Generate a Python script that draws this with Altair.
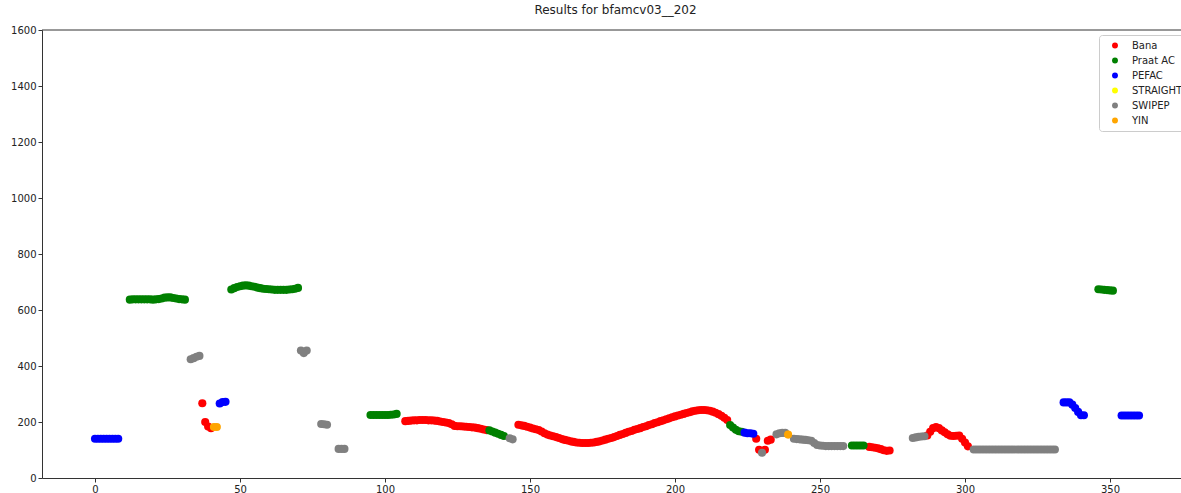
import altair as alt
import pandas as pd

# Pitch tracks for one recording: each method is a list of
# (first frame, f0 values in Hz on consecutive frames)
methods = ["Bana", "Praat AC", "PEFAC", "STRAIGHT", "SWIPEP", "YIN"]
method_colors = ["red", "green", "blue", "yellow", "gray", "orange"]

bana_segments = [
    (37, [267, 200, 184, 178]),
    (107, [203, 204, 205, 206, 206, 207, 207, 207, 206, 206,
           205, 204, 202, 200, 198, 196, 192, 186, 185, 185,
           184, 183, 182, 181, 180, 178, 176, 173, 171]),
    (146, [190, 188, 186, 183, 180, 177, 174, 171, 166, 160,
           155, 152, 149, 146, 143, 139, 136, 134, 131, 129,
           127, 126, 125, 125, 125, 126, 127, 129, 131, 134,
           137, 140, 143, 146, 150, 154, 157, 161, 165, 168,
           172, 175, 178, 182, 185, 189, 192, 196, 199, 203,
           206, 210, 213, 217, 220, 223, 226, 229, 232, 235,
           238, 240, 242, 243, 243, 242, 240, 237, 233, 228,
           222, 215, 207]),
    (228, [140, 101]),
    (231, [101, 133, 137]),
    (267, [111, 110, 108, 106, 103, 99, 97, 98]),
    (287, [152, 165, 178, 182, 178, 170, 163, 156, 151, 150,
           151, 152, 140, 127, 113]),
]

praat_segments = [
    (12, [637, 638, 638, 638, 638, 638, 638, 638, 637, 638,
          639, 641, 644, 645, 645, 643, 641, 639, 638, 637]),
    (47, [673, 678, 682, 685, 687, 688, 687, 685, 683, 680,
          678, 676, 675, 674, 673, 672, 672, 672, 672, 672,
          673, 674, 676, 679]),
    (95, [225, 225, 225, 225, 225, 225, 225, 226, 227, 229]),
    (136, [170, 166, 162, 158, 154, 150]),
    (219, [189, 180, 172, 167, 165]),
    (261, [116, 116, 116, 116, 116]),
    (346, [674, 673, 672, 671, 670, 669]),
]

pefac_segments = [
    (0, [140, 140, 140, 140, 140, 140, 140, 140, 140]),
    (43, [266, 271, 272]),
    (224, [162, 160, 160, 158]),
    (334, [270, 270, 270, 262, 250, 236, 224, 224]),
    (354, [223, 223, 223, 223, 223, 223, 223]),
]

straight_segments = []

swipep_segments = [
    (33, [424, 428, 433, 436]),
    (71, [455, 446, 455]),
    (78, [193, 192, 190]),
    (84, [104, 104, 104]),
    (143, [142, 138]),
    (230, [90]),
    (235, [156, 160, 161, 161]),
    (241, [140, 139, 138, 137, 136, 135, 133, 125, 118, 116,
           115, 114, 114, 114, 114, 114, 114, 114]),
    (282, [143, 145, 147, 148, 149]),
    (303, [102, 102, 102, 102, 102, 102, 102, 102, 102, 102,
           102, 102, 102, 102, 102, 102, 102, 102, 102, 102,
           102, 102, 102, 102, 102, 102, 102, 102, 102]),
]

yin_segments = [
    (41, [182, 182]),
    (239, [155]),
]

x_ticks = [0, 50, 100, 150, 200, 250, 300, 350]
y_ticks = [0, 200, 400, 600, 800, 1000, 1200, 1400, 1600]

rows = []
for name, segments in zip(methods, [bana_segments, praat_segments, pefac_segments,
                                    straight_segments, swipep_segments, yin_segments]):
    for start, values in segments:
        for i, v in enumerate(values):
            rows.append({"frame": start + i, "f0": v, "method": name})
df = pd.DataFrame(rows)

W, H = 1139, 448
font = "DejaVu Sans"
ink = "#333333"

points = alt.Chart(df).mark_circle(size=66, opacity=1).encode(
    x=alt.X("frame:Q",
            scale=alt.Scale(domain=[-18.28, 374.48], nice=False, zero=False),
            axis=alt.Axis(values=x_ticks, title=None, grid=False, format="d")),
    y=alt.Y("f0:Q",
            scale=alt.Scale(domain=[0, 1600], nice=False),
            axis=alt.Axis(values=y_ticks, title=None, grid=False, format="d")),
    color=alt.Color("method:N",
                    scale=alt.Scale(domain=methods, range=method_colors),
                    legend=alt.Legend(title=None, orient="none", legendX=1057, legendY=5,
                                      fillColor="white", strokeColor="#cccccc",
                                      cornerRadius=3, padding=4,
                                      symbolType="circle", symbolSize=35,
                                      symbolStrokeWidth=0, symbolOpacity=1,
                                      symbolOffset=7, labelOffset=12,
                                      clipHeight=13, rowPadding=2,
                                      labelFont=font, labelFontSize=10,
                                      labelColor="#222222")),
)

top_spine = alt.Chart(pd.DataFrame({"k": [0]})).mark_rule(color=ink, strokeWidth=1).encode(
    x=alt.value(0), x2=alt.value(W), y=alt.value(0)
)

chart = alt.layer(points, top_spine).properties(
    width=W, height=H,
    title=alt.TitleParams("Results for bfamcv03__202", font=font, fontSize=12,
                          fontWeight="normal", color="#222222", offset=8, dx=4,
                          anchor="middle"),
    padding={"left": 42, "top": 30, "right": 0, "bottom": 15},
    autosize=alt.AutoSizeParams(type="none"),
).configure_view(stroke=None).configure_axis(
    domainColor=ink, domainWidth=1, tickColor=ink, tickSize=4, tickWidth=1,
    labelFont=font, labelFontSize=10, labelColor="#222222", labelPadding=2,
)

chart.save("out.html", embed_options={"renderer": "svg", "actions": False})
